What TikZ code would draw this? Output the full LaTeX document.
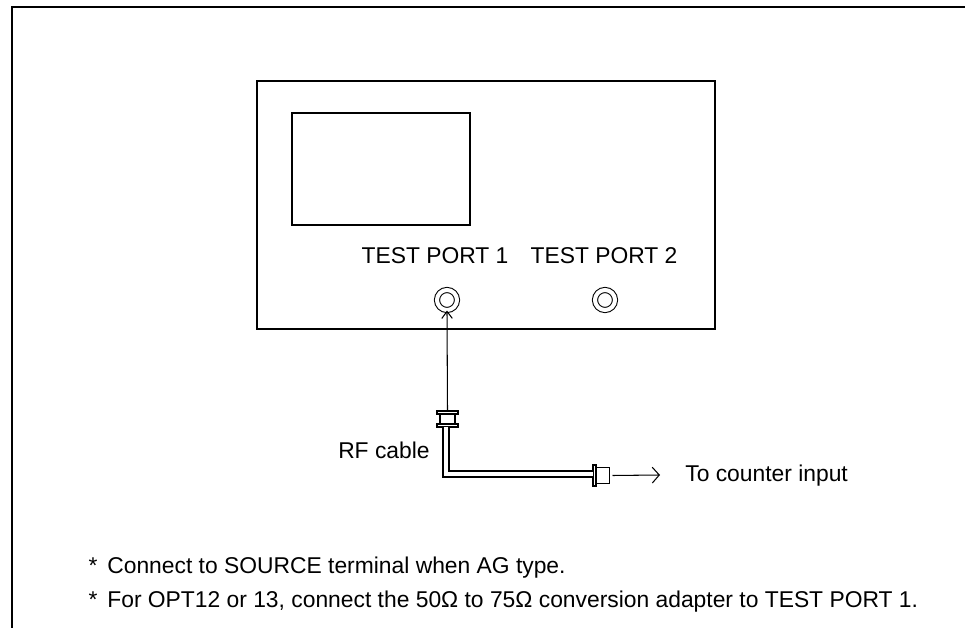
\documentclass[tikz,border=0pt]{standalone}
\usepackage{fontspec}
\setmainfont{Liberation Sans}
\usetikzlibrary{arrows.meta}

\tikzset{
  lbl/.style={inner sep=0pt, font=\fontsize{13}{15}\selectfont},
  port/.style={circle, draw, double, line width=0.6pt, double distance=2.3pt,
               minimum size=0.4cm, inner sep=0pt},
  cable/.style={draw, double, line width=0.6pt, double distance=2.8pt},
  plug/.style={draw, line width=0.8pt, inner sep=0pt, outer sep=0pt}
}

\begin{document}
\begin{tikzpicture}[x=0.02cm,y=-0.02cm]
\useasboundingbox (0,0) rectangle (965,628);

% ---------------- FRAME ----------------

\coordinate (F0) at (12,628);
\coordinate (F1) at (12,7);
\coordinate (F2) at (965,7);
\draw[line width=1pt] (F0)--(F1)--(F2);

% ---------------- INSTRUMENT ----------------

\node[draw, line width=1.3pt, minimum width=9.16cm, minimum height=4.96cm,
      inner sep=0pt] (inst) at (486,205) {};
\node[draw, line width=0.9pt, minimum width=3.56cm, minimum height=2.24cm,
      inner sep=0pt] (screen) at (381,169) {};

\node[lbl] (L1) at (435,256) {TEST PORT 1};
\node[lbl] (L2) at (604,256) {TEST PORT 2};

\node[port] (P1) at (447,300) {};
\node[port] (P2) at (605,300) {};

% ---------------- CABLE ----------------

\node[plug, minimum width=0.3cm, minimum height=0.2cm] (C1) at (447.5,419) {};
\node[plug, fill=white, minimum width=0.42cm, minimum height=0.06cm] (C1t) at (447.5,412.5) {};
\node[plug, fill=white, minimum width=0.42cm, minimum height=0.06cm] (C1b) at (447.5,425.5) {};

\node[plug, minimum width=0.26cm, minimum height=0.32cm] (C2) at (603,475.5) {};
\node[plug, fill=white, minimum width=0.06cm, minimum height=0.42cm] (C2l) at (594.5,475.5) {};

\coordinate (K) at (446,474);
\draw[cable] (C1b.south -| K) -- (K) -- (C2l.west |- K);

\draw[-{Straight Barb[length=4pt,width=6pt]}, line width=0.6pt] (C1t.north) -- (P1.south);

\coordinate (T) at (660,475);
\draw[-{Straight Barb[length=4pt,width=9pt]}, line width=0.6pt] (C2.east) ++(3,0) -- (T);

\node[lbl, anchor=east] (RF) at (430,450) {RF cable};
\node[lbl, anchor=west] (CI) at (685,476) {To counter input};

% ---------------- NOTES ----------------

\node[lbl] (S1) at (93,566) {*};
\node[lbl, anchor=west] (N1) at (107,568) {Connect to SOURCE terminal when AG type.};
\node[lbl] (S2) at (93,600) {*};
\node[lbl, anchor=west] (N2) at (107,602) {For OPT12 or 13, connect the 50Ω to 75Ω conversion adapter to TEST PORT 1.};

\end{tikzpicture}
\end{document}
